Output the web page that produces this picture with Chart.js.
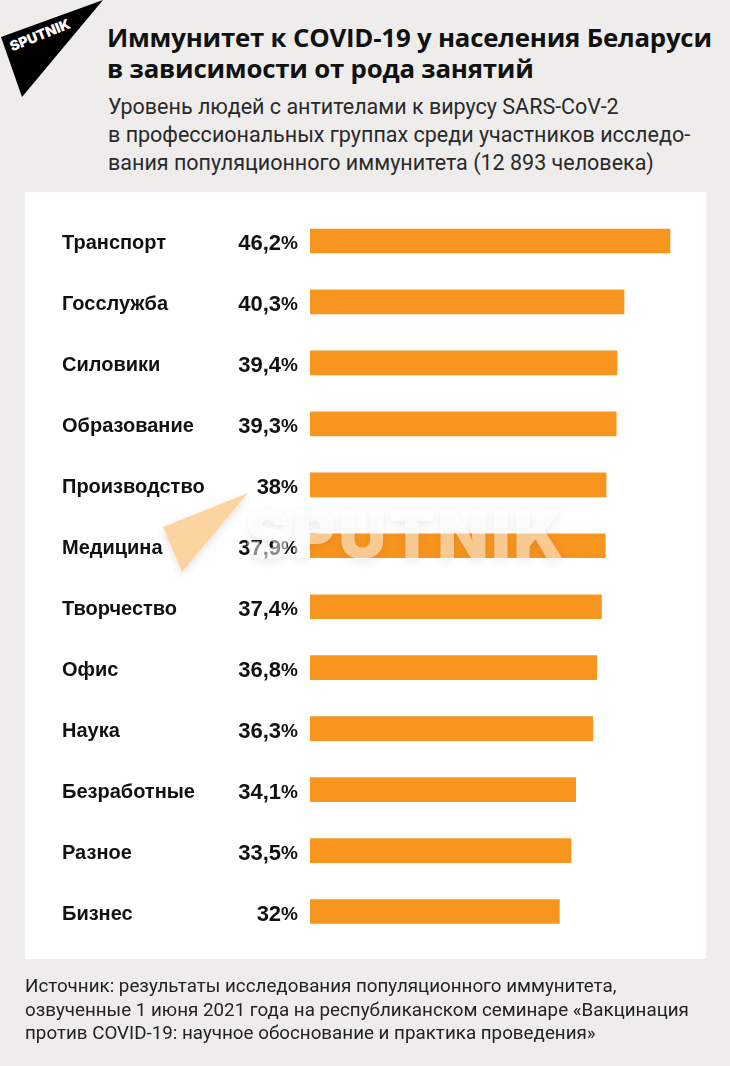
<!DOCTYPE html>
<html>
<head>
<meta charset="utf-8">
<script src="https://cdn.jsdelivr.net/npm/chart.js@4/dist/chart.umd.min.js"></script>
<style>
  html, body { margin: 0; padding: 0; }
  body { width: 730px; height: 1066px; background: #eeedeb; position: relative; overflow: hidden; font-family: Roboto, "Liberation Sans", sans-serif; }
  #logo { position: absolute; left: 0; top: 0; }
  #title { position: absolute; left: 107px; top: 22px; font-family: "Open Sans", Inter, sans-serif; font-weight: 700; font-size: 25.8px; line-height: 31px; color: #111; letter-spacing: -0.2px; white-space: nowrap; }
  #subtitle { position: absolute; left: 108px; top: 93px; font-size: 21.5px; line-height: 28px; color: #2a2a2a; white-space: nowrap; }
  #panel { position: absolute; left: 25px; top: 192px; width: 681px; height: 767px; background: #fff; }
  #chartwrap { position: absolute; left: 25px; top: 192px; width: 681px; height: 767px; }
  #source { position: absolute; left: 25px; top: 975px; font-size: 18.8px; line-height: 23.5px; color: #222; white-space: nowrap; }
  #wm { position: absolute; left: 0; top: 0; width: 730px; height: 1066px; pointer-events: none; }
</style>
</head>
<body>
<svg id="logo" width="110" height="100" viewBox="0 0 110 100">
  <polygon points="1,37 103,0 22,97" fill="#000"/>
  <text x="40" y="40" fill="#fff" font-family="Inter, 'Open Sans', sans-serif" font-weight="900" font-size="14" text-anchor="middle" transform="rotate(-22 40 35)">SPUTNIK</text>
</svg>
<div id="title">Иммунитет к COVID-19 у населения Беларуси<br>в зависимости от рода занятий</div>
<div id="subtitle">Уровень людей с антителами к вирусу SARS-CoV-2<br>в профессиональных группах среди участников исследо-<br>вания популяционного иммунитета (12 893 человека)</div>
<div id="panel"></div>
<div id="chartwrap"><canvas id="c" width="681" height="767"></canvas></div>
<svg id="wm" width="730" height="1066">
  <defs><filter id="sh" x="-10%" y="-30%" width="120%" height="170%"><feDropShadow dx="0" dy="3" stdDeviation="4" flood-color="#000" flood-opacity="0.16"/></filter></defs>
  <polygon points="248,493 163,527 182,572" fill="#fbc680" opacity="0.75" filter="url(#sh)"/>
  <text x="406" y="558" fill="#fff" fill-opacity="0.5" font-family="Inter, 'DejaVu Sans', sans-serif" font-weight="900" font-size="66" text-anchor="middle" letter-spacing="3" filter="url(#sh)">SPUTNIK</text>
</svg>
<div id="source">Источник: результаты исследования популяционного иммунитета,<br>озвученные 1 июня 2021 года на республиканском семинаре «Вакцинация<br>против COVID-19: научное обоснование и практика проведения»</div>
<script>
const categories = ["Транспорт","Госслужба","Силовики","Образование","Производство","Медицина","Творчество","Офис","Наука","Безработные","Разное","Бизнес"];
const values = [46.2, 40.3, 39.4, 39.3, 38, 37.9, 37.4, 36.8, 36.3, 34.1, 33.5, 32];
const valueLabels = ["46,2","40,3","39,4","39,3","38","37,9","37,4","36,8","36,3","34,1","33,5","32"];

const labelPlugin = {
  id: 'labels',
  afterDatasetsDraw(chart) {
    const ctx = chart.ctx;
    const y = chart.scales.y;
    const left = chart.chartArea.left;
    ctx.save();
    ctx.textBaseline = 'middle';
    categories.forEach((cat, i) => {
      const py = y.getPixelForValue(i);
      ctx.fillStyle = '#111';
      ctx.textAlign = 'left';
      ctx.font = 'bold 20px "Liberation Sans", Arial, sans-serif';
      ctx.fillText(cat, 37, py + 3);
      ctx.textAlign = 'right';
      ctx.font = 'bold 19px "Liberation Sans", Arial, sans-serif';
      const pw = ctx.measureText('%').width;
      const xr = left - 12;
      ctx.fillText('%', xr, py + 3);
      ctx.font = 'bold 22px "Liberation Sans", Arial, sans-serif';
      ctx.fillText(valueLabels[i], xr - pw, py + 3);
    });
    ctx.restore();
  }
};

new Chart(document.getElementById('c'), {
  type: 'bar',
  data: {
    labels: categories,
    datasets: [{ data: values, backgroundColor: '#f8951f', borderWidth: 0, barThickness: 24 }]
  },
  options: {
    indexAxis: 'y',
    responsive: false,
    animation: false,
    layout: { padding: { left: 285, right: 6.4, top: 18.5, bottom: 17 } },
    plugins: { legend: { display: false }, tooltip: { enabled: false } },
    scales: {
      x: { display: false, min: 0, max: 50 },
      y: { display: false }
    }
  },
  plugins: [labelPlugin]
});
</script>
</body>
</html>
